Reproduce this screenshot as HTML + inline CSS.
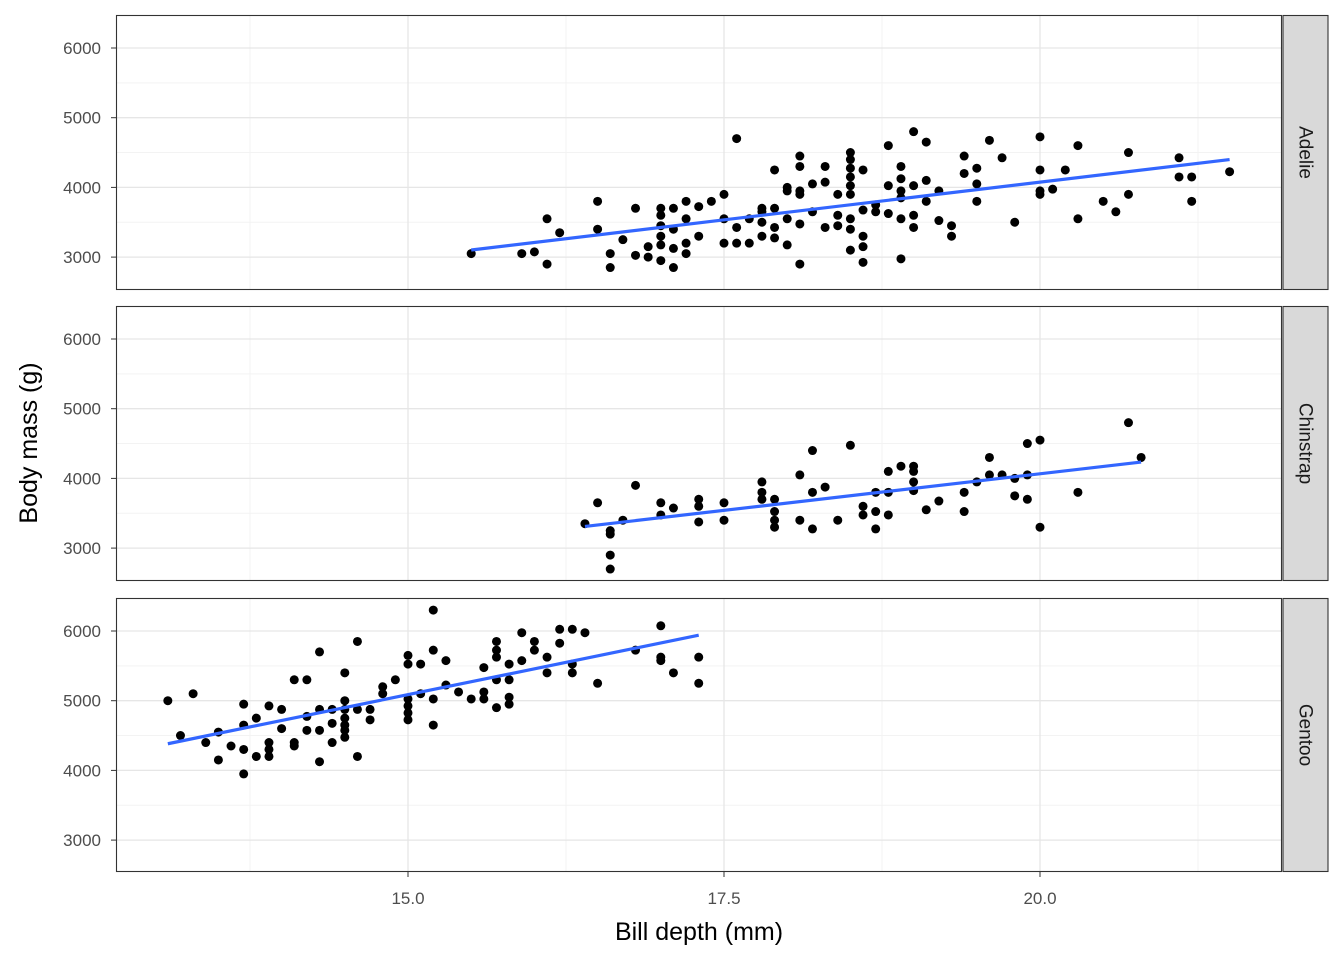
<!DOCTYPE html>
<html><head><meta charset="utf-8"><style>body{margin:0;background:#fff}svg{display:block;font-family:"Liberation Sans",sans-serif}</style></head>
<body>
<svg id="chart" width="1344" height="960" xmlns="http://www.w3.org/2000/svg"></svg>
<script>
const species = ["Adelie","Chinstrap","Gentoo"];
const xTicks = [15.0, 17.5, 20.0];
const xMinor = [13.75, 16.25, 18.75, 21.25];
const yTicks = [3000, 4000, 5000, 6000];
const yMinor = [2500, 3500, 4500, 5500, 6500];
const adelieDepth = [15.5,15.9,16.0,16.1,16.1,16.2,16.5,16.5,16.6,16.6,16.7,16.8,16.8,16.9,16.9,17.0,17.0,17.0,17.0,17.0,17.0,17.1,17.1,17.1,17.1,17.2,17.2,17.2,17.2,17.3,17.3,17.4,17.5,17.5,17.5,17.6,17.6,17.6,17.7,17.7,17.8,17.8,17.8,17.8,17.9,17.9,17.9,17.9,18.0,18.0,18.0,18.0,18.1,18.1,18.1,18.1,18.1,18.1,18.2,18.2,18.3,18.3,18.3,18.4,18.4,18.4,18.5,18.5,18.5,18.5,18.5,18.5,18.5,18.5,18.5,18.6,18.6,18.6,18.6,18.6,18.7,18.7,18.8,18.8,18.8,18.9,18.9,18.9,18.9,18.9,18.9,19.0,19.0,19.0,19.0,19.1,19.1,19.1,19.2,19.2,19.3,19.3,19.4,19.4,19.5,19.5,19.5,19.6,19.7,19.8,20.0,20.0,20.0,20.0,20.1,20.2,20.3,20.3,20.5,20.6,20.7,20.7,21.1,21.1,21.2,21.2,21.5];
const adelieMass = [3050,3050,3075,3550,2900,3350,3800,3400,3050,2850,3250,3700,3025,3150,3000,3700,3600,3450,3300,3175,2950,3700,3400,3125,2850,3800,3550,3200,3050,3725,3300,3800,3900,3200,3550,4700,3425,3200,3550,3200,3700,3500,3300,3650,4250,3700,3425,3275,4000,3950,3550,3175,4450,4300,3950,3900,3475,2900,4050,3650,4300,4075,3425,3900,3600,3450,4500,4400,4275,4150,4025,3900,3550,3400,3100,4250,3675,3300,3150,2925,3650,3750,4600,4025,3625,4300,4125,3950,3850,3550,2975,4800,4025,3600,3425,4650,4100,3800,3950,3525,3450,3300,4450,4200,4275,4050,3800,4675,4425,3500,4725,4250,3950,3900,3975,4250,4600,3550,3800,3650,4500,3900,4425,4150,4150,3800,4225];
const chinDepth = [16.4,16.5,16.6,16.6,16.6,16.6,16.7,16.8,17.0,17.0,17.1,17.3,17.3,17.3,17.5,17.5,17.8,17.8,17.8,17.9,17.9,17.9,17.9,18.1,18.1,18.2,18.2,18.2,18.3,18.4,18.5,18.6,18.6,18.7,18.7,18.7,18.8,18.8,18.8,18.9,19.0,19.0,19.0,19.0,19.1,19.2,19.4,19.4,19.5,19.6,19.6,19.7,19.8,19.8,19.9,19.9,19.9,20.0,20.0,20.3,20.7,20.8];
const chinMass = [3350,3650,3250,3200,2900,2700,3400,3900,3650,3475,3575,3700,3600,3375,3650,3400,3950,3800,3700,3700,3525,3400,3300,4050,3400,4400,3800,3275,3875,3400,4475,3600,3475,3800,3525,3275,4100,3800,3475,4175,4175,4100,3950,3825,3550,3675,3800,3525,3950,4300,4050,4050,4000,3750,4500,4050,3700,4550,3300,3800,4800,4300];
const gentooDepth = [13.1,13.2,13.3,13.4,13.5,13.5,13.6,13.7,13.7,13.7,13.7,13.8,13.8,13.9,13.9,13.9,13.9,14.0,14.0,14.1,14.1,14.1,14.2,14.2,14.2,14.3,14.3,14.3,14.3,14.4,14.4,14.4,14.5,14.5,14.5,14.5,14.5,14.5,14.5,14.6,14.6,14.6,14.7,14.7,14.8,14.8,14.9,15.0,15.0,15.0,15.0,15.0,15.0,15.1,15.1,15.2,15.2,15.2,15.2,15.3,15.3,15.4,15.5,15.6,15.6,15.6,15.7,15.7,15.7,15.7,15.7,15.8,15.8,15.8,15.8,15.9,15.9,16.0,16.0,16.1,16.1,16.2,16.2,16.3,16.3,16.3,16.4,16.5,16.8,17.0,17.0,17.0,17.1,17.3,17.3];
const gentooMass = [5000,4500,5100,4400,4550,4150,4350,4950,4650,4300,3950,4750,4200,4925,4400,4300,4200,4875,4600,5300,4400,4350,5300,4775,4575,5700,4875,4575,4125,4875,4675,4400,5400,5000,4875,4750,4650,4575,4475,5850,4875,4200,4875,4725,5200,5100,5300,5650,5525,5025,4925,4825,4725,5525,5100,6300,5725,5025,4650,5575,5225,5125,5025,5125,5025,5475,5850,5725,5625,5300,4900,5525,5300,5050,4950,5975,5575,5850,5725,5625,5400,6025,5825,6025,5525,5400,5975,5250,5725,6075,5625,5575,5400,5625,5250];

const NS="http://www.w3.org/2000/svg", svg=document.getElementById('chart');
function mk(tag, attrs, parent){const e=document.createElementNS(NS,tag);for(const k in attrs)e.setAttribute(k,attrs[k]);(parent||svg).appendChild(e);return e;}
const X0=116,X1=1282;
const xs=v=>408+(v-15)*126.4;
const panels=[{top:15,bot:290,d:adelieDepth,m:adelieMass},{top:306,bot:581,d:chinDepth,m:chinMass},{top:598,bot:872,d:gentooDepth,m:gentooMass}];
panels.forEach((p,i)=>{
  const y6000=p.top+33, ys=v=>y6000+(6000-v)*0.0697;
  const g=mk('g',{});
  
  
  mk('rect',{x:X0,y:p.top,width:X1-X0,height:p.bot-p.top,fill:'#fff'},g);
  yMinor.forEach(v=>{const y=ys(v);if(y>p.top&&y<p.bot)mk('line',{x1:X0,x2:X1,y1:y,y2:y,stroke:'#f3f3f3','stroke-width':1},g);});
  xMinor.forEach(v=>mk('line',{x1:xs(v),x2:xs(v),y1:p.top,y2:p.bot,stroke:'#f3f3f3','stroke-width':1},g));
  yTicks.forEach(v=>{const y=ys(v);mk('line',{x1:X0,x2:X1,y1:y,y2:y,stroke:'#e6e6e6','stroke-width':1.3},g);
    mk('line',{x1:111,x2:116,y1:y,y2:y,stroke:'#333','stroke-width':1},g);
    const t=mk('text',{x:101,y:y+6,'text-anchor':'end','font-size':17,fill:'#4d4d4d'},g);t.textContent=v;
    
    });
  xTicks.forEach(v=>mk('line',{x1:xs(v),x2:xs(v),y1:p.top,y2:p.bot,stroke:'#e6e6e6','stroke-width':1.3},g));
  p.d.forEach((d,j)=>{const c=mk('circle',{cx:xs(d),cy:ys(p.m[j]),r:4.5,fill:'#000'},g);
    
    });
  // linear fit
  const n=p.d.length,mx=p.d.reduce((a,b)=>a+b)/n,my=p.m.reduce((a,b)=>a+b)/n;
  let sxy=0,sxx=0;p.d.forEach((d,j)=>{sxy+=(d-mx)*(p.m[j]-my);sxx+=(d-mx)*(d-mx);});
  const b=sxy/sxx,a=my-b*mx,lo=Math.min(...p.d),hi=Math.max(...p.d);
  const ln=mk('line',{x1:xs(lo),y1:ys(a+b*lo),x2:xs(hi),y2:ys(a+b*hi),stroke:'#3366FF','stroke-width':3.2},g);
  
  
  mk('rect',{x:X0+0.5,y:p.top+0.5,width:X1-X0-1,height:p.bot-p.top-1,fill:'none',stroke:'#333','stroke-width':1.1},g);
  const s=mk('rect',{x:1283,y:p.top+0.5,width:45,height:p.bot-p.top-1,fill:'#d9d9d9',stroke:'#333','stroke-width':1.1});
  
  
  const cy=(p.top+p.bot)/2;
  const st=mk('text',{x:1305,y:cy,'text-anchor':'middle','dominant-baseline':'central','font-size':19,fill:'#1a1a1a',transform:`rotate(90 1305 ${cy})`});
  st.textContent=species[i];
  
  
});
xTicks.forEach(v=>{mk('line',{x1:xs(v),x2:xs(v),y1:872,y2:877,stroke:'#333','stroke-width':1});
  const t=mk('text',{x:xs(v),y:904,'text-anchor':'middle','font-size':17,fill:'#4d4d4d'});t.textContent=v.toFixed(1);
  
  });
const xt=mk('text',{x:699,y:940,'text-anchor':'middle','font-size':25,fill:'#000'});xt.textContent='Bill depth (mm)';


const yt=mk('text',{x:37,y:443,'text-anchor':'middle','font-size':25,fill:'#000',transform:'rotate(-90 37 443)'});yt.textContent='Body mass (g)';


</script>
</body></html>
